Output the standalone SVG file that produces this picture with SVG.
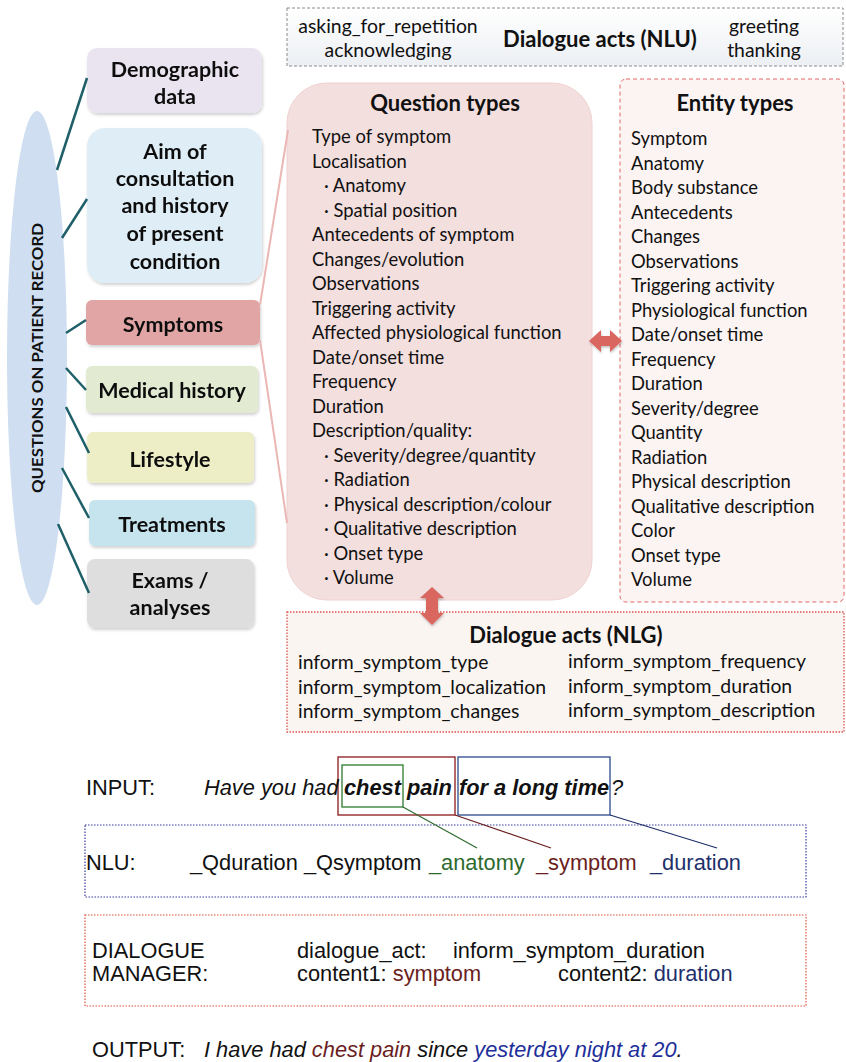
<svg xmlns="http://www.w3.org/2000/svg" width="846" height="1062" viewBox="0 0 846 1062">
<defs>
<filter id="sh" x="-10%" y="-10%" width="130%" height="130%"><feDropShadow dx="1" dy="2" stdDeviation="1.5" flood-color="#000" flood-opacity="0.18"/></filter>
<filter id="ash" x="-30%" y="-30%" width="160%" height="160%"><feDropShadow dx="0.5" dy="1.5" stdDeviation="1" flood-color="#000" flood-opacity="0.25"/></filter>
<linearGradient id="nluG" x1="0" y1="0" x2="0" y2="1"><stop offset="0" stop-color="#ffffff"/><stop offset="1" stop-color="#eceff3"/></linearGradient>
</defs>
<style>
.c{font-family:Lato,"Open Sans","Liberation Sans",sans-serif;fill:#111}
.nb{font-size:21.5px;font-weight:bold;text-anchor:middle}
.ti{font-size:22px;font-weight:bold;text-anchor:middle}
.li{font-size:18.4px}
.sm{font-size:19.4px}
.a{font-family:"Liberation Sans",Arial,sans-serif;font-size:21.8px;fill:#111}
.it{font-style:italic}
.bi{font-style:italic;font-weight:bold}
.teal{stroke:#1e5f68;stroke-width:2.5;fill:none}
.pink{stroke:#eab7b5;stroke-width:2;fill:none}
.arr{fill:#d9665e}
.green{fill:#2e6a2e}
.red{fill:#6a1e1e}
.navy{fill:#1e2f6a}
</style>
<rect width="846" height="1062" fill="#fff"/>

<!-- top NLU dialogue acts -->
<g id="nlu-acts">
<rect x="287" y="8" width="556" height="58" fill="url(#nluG)" stroke="#8a8a8a" stroke-width="1" stroke-dasharray="3 2"/>
<text class="c sm" x="388" y="33" text-anchor="middle">asking_for_repetition</text>
<text class="c sm" x="388" y="57" text-anchor="middle">acknowledging</text>
<text class="c ti" x="600" y="47" font-size="22.8">Dialogue acts (NLU)</text>
<text class="c sm" x="764" y="33" text-anchor="middle">greeting</text>
<text class="c sm" x="764" y="57" text-anchor="middle">thanking</text>
</g>

<!-- ellipse -->
<g id="patient-record">
<ellipse cx="37" cy="358" rx="30" ry="247" fill="#cfdff1"/>
<text class="c" transform="translate(43 358) rotate(-90)" text-anchor="middle" font-size="15" font-weight="bold" textLength="270" lengthAdjust="spacingAndGlyphs">QUESTIONS ON PATIENT RECORD</text>
</g>

<!-- left category boxes -->
<g id="demographic" filter="url(#sh)">
<rect x="87" y="48" width="175" height="65" rx="10" fill="#e9e4ef"/>
<text class="c nb" x="175" y="77">Demographic</text>
<text class="c nb" x="175" y="104">data</text>
</g>
<g id="aim" filter="url(#sh)">
<rect x="87" y="128" width="175" height="155" rx="18" fill="#dfeef6"/>
<text class="c nb" x="175" y="159">Aim of</text>
<text class="c nb" x="175" y="186">consultation</text>
<text class="c nb" x="175" y="213">and history</text>
<text class="c nb" x="175" y="241">of present</text>
<text class="c nb" x="175" y="269">condition</text>
</g>
<g id="symptoms" filter="url(#sh)">
<rect x="86" y="300" width="174" height="45" rx="6" fill="#e0a5a4"/>
<text class="c nb" x="173" y="332">Symptoms</text>
</g>
<g id="medical-history" filter="url(#sh)">
<rect x="86" y="366" width="172" height="47" rx="6" fill="#e2ead2"/>
<text class="c nb" x="172" y="398">Medical history</text>
</g>
<g id="lifestyle" filter="url(#sh)">
<rect x="87" y="432" width="167" height="51" rx="6" fill="#eeeec6"/>
<text class="c nb" x="170" y="467">Lifestyle</text>
</g>
<g id="treatments" filter="url(#sh)">
<rect x="89" y="500" width="166" height="46" rx="6" fill="#c5e4ed"/>
<text class="c nb" x="172" y="532">Treatments</text>
</g>
<g id="exams" filter="url(#sh)">
<rect x="87" y="559" width="167" height="69" rx="8" fill="#dedede"/>
<text class="c nb" x="170" y="588">Exams /</text>
<text class="c nb" x="170" y="615">analyses</text>
</g>

<!-- question types -->
<g id="question-types">
<rect x="287" y="83" width="305" height="517" rx="40" fill="#f3dfde" stroke="#f0d2d1" stroke-width="1"/>
<text class="c ti" x="445" y="111">Question types</text>
<g class="c li">
<text x="312" y="143">Type of symptom</text>
<text x="312" y="168">Localisation</text>
<text x="324" y="192">· Anatomy</text>
<text x="324" y="217">· Spatial position</text>
<text x="312" y="241">Antecedents of symptom</text>
<text x="312" y="266">Changes/evolution</text>
<text x="312" y="290">Observations</text>
<text x="312" y="315">Triggering activity</text>
<text x="312" y="339">Affected physiological function</text>
<text x="312" y="364">Date/onset time</text>
<text x="312" y="388">Frequency</text>
<text x="312" y="413">Duration</text>
<text x="312" y="437">Description/quality:</text>
<text x="324" y="462">· Severity/degree/quantity</text>
<text x="324" y="486">· Radiation</text>
<text x="324" y="511">· Physical description/colour</text>
<text x="324" y="535">· Qualitative description</text>
<text x="324" y="560">· Onset type</text>
<text x="324" y="584">· Volume</text>
</g>
</g>

<!-- entity types -->
<g id="entity-types">
<rect x="620" y="79" width="224" height="523" rx="6" fill="#fcf4f3" stroke="#e06a66" stroke-width="1" stroke-dasharray="4 3"/>
<text class="c ti" x="735" y="111">Entity types</text>
<g class="c li">
<text x="631" y="145">Symptom</text>
<text x="631" y="170">Anatomy</text>
<text x="631" y="194">Body substance</text>
<text x="631" y="219">Antecedents</text>
<text x="631" y="243">Changes</text>
<text x="631" y="268">Observations</text>
<text x="631" y="292">Triggering activity</text>
<text x="631" y="317">Physiological function</text>
<text x="631" y="341">Date/onset time</text>
<text x="631" y="366">Frequency</text>
<text x="631" y="390">Duration</text>
<text x="631" y="415">Severity/degree</text>
<text x="631" y="439">Quantity</text>
<text x="631" y="464">Radiation</text>
<text x="631" y="488">Physical description</text>
<text x="631" y="513">Qualitative description</text>
<text x="631" y="537">Color</text>
<text x="631" y="562">Onset type</text>
<text x="631" y="586">Volume</text>
</g>
</g>

<!-- NLG -->
<g id="nlg-acts">
<rect x="287" y="612" width="557" height="120" fill="#fbf5f2" stroke="#d9534f" stroke-width="1.3" stroke-dasharray="1.5 1.5"/>
<text class="c ti" x="566" y="643" font-size="23.5">Dialogue acts (NLG)</text>
<g class="c sm">
<text x="298" y="669">inform_symptom_type</text>
<text x="298" y="694">inform_symptom_localization</text>
<text x="298" y="718">inform_symptom_changes</text>
<text x="568" y="668">inform_symptom_frequency</text>
<text x="568" y="693">inform_symptom_duration</text>
<text x="568" y="717">inform_symptom_description</text>
</g>
</g>

<!-- input -->
<g id="input">
<rect x="338" y="757" width="117" height="58" fill="none" stroke="#8b1a1a" stroke-width="1.3"/>
<rect x="342" y="765" width="61" height="42" fill="none" stroke="#2e7a2e" stroke-width="1.3"/>
<rect x="458" y="757" width="152" height="58" fill="none" stroke="#2a4a8a" stroke-width="1.3"/>
<text class="a" x="86" y="795">INPUT:</text>
<text class="a it" x="204" y="795">Have you had</text>
<text class="a bi" x="344" y="795">chest pain</text>
<text class="a bi" x="459" y="795">for a long time</text>
<text class="a it" x="611" y="795">?</text>
</g>

<!-- NLU -->
<g id="nlu">
<rect x="85" y="825" width="721" height="72" fill="none" stroke="#3a3aa0" stroke-width="1.2" stroke-dasharray="1.5 1.5"/>
<text class="a" x="86" y="870">NLU:</text>
<text class="a" x="190" y="870">_Qduration _Qsymptom</text>
<text class="a green" x="429" y="870">_anatomy</text>
<text class="a red" x="536" y="870">_symptom</text>
<text class="a navy" x="650" y="870">_duration</text>
</g>

<!-- dialogue manager -->
<g id="dialogue-manager">
<rect x="85" y="915" width="721" height="91" fill="none" stroke="#e0503a" stroke-width="1.2" stroke-dasharray="1.5 1.5"/>
<text class="a" x="92" y="958">DIALOGUE</text>
<text class="a" x="92" y="981">MANAGER:</text>
<text class="a" x="297" y="958">dialogue_act:</text>
<text class="a" x="453" y="958">inform_symptom_duration</text>
<text class="a" x="297" y="981">content1: <tspan class="red">symptom</tspan></text>
<text class="a" x="558" y="981">content2: <tspan class="navy">duration</tspan></text>
</g>

<!-- output -->
<g id="output">
<text class="a" x="92" y="1057">OUTPUT:</text>
<text class="a it" x="204" y="1057">I have had <tspan fill="#6a1e1e">chest pain</tspan> since <tspan fill="#1e2f9a">yesterday night at 20</tspan>.</text>
</g>

<!-- connectors -->
<g id="connectors">
<line class="teal" x1="57" y1="170" x2="87" y2="78"/>
<line class="teal" x1="62" y1="238" x2="87" y2="199"/>
<line class="teal" x1="66" y1="333" x2="86" y2="320"/>
<line class="teal" x1="66" y1="368" x2="86" y2="390"/>
<line class="teal" x1="66" y1="407" x2="89" y2="453"/>
<line class="teal" x1="62" y1="468" x2="89" y2="518"/>
<line class="teal" x1="58" y1="524" x2="89" y2="593"/>
<line class="pink" x1="260" y1="305" x2="288" y2="130"/>
<line class="pink" x1="260" y1="340" x2="287" y2="523"/>
<polygon class="arr" filter="url(#ash)" points="589,341 601,330 601,336 610,336 610,330 622,341 610,352 610,346 601,346 601,352"/>
<polygon class="arr" filter="url(#ash)" points="432,587 444,598 438,598 438,613 444,613 432,625 420,613 426,613 426,598 420,598"/>
<line x1="403" y1="807" x2="477" y2="848" stroke="#2e6a2e" stroke-width="1.2"/>
<line x1="455" y1="815" x2="551" y2="848" stroke="#6a1e1e" stroke-width="1.2"/>
<line x1="610" y1="815" x2="717" y2="848" stroke="#1e2f6a" stroke-width="1.2"/>
</g>
</svg>
